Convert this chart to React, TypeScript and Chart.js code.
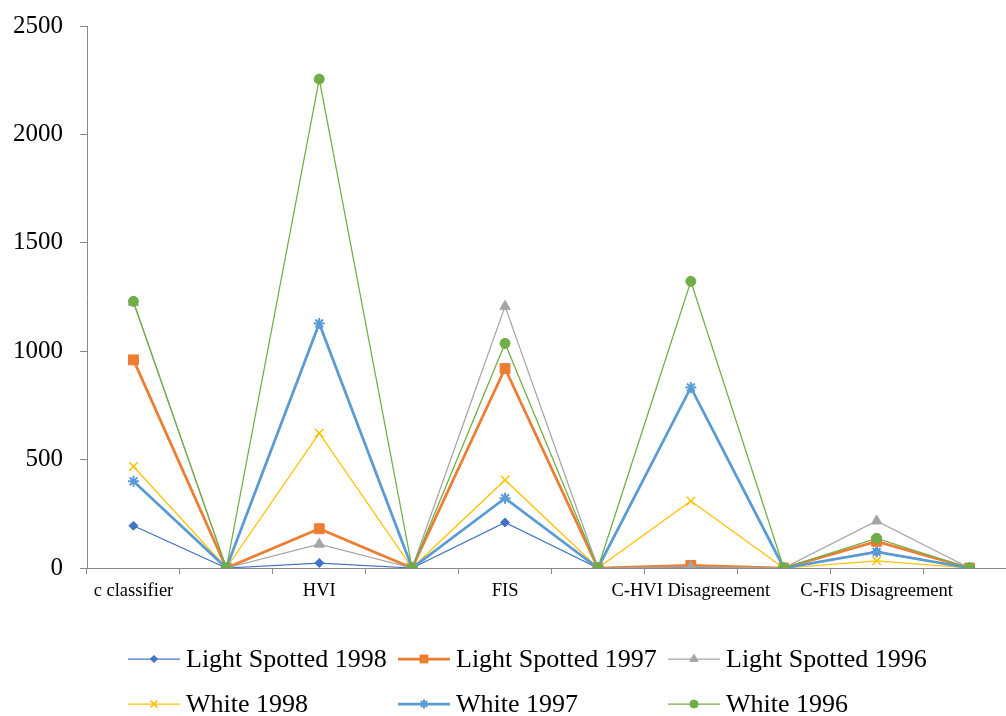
import React, { useEffect, useRef } from "react";
import { Chart, registerables } from "chart.js";
import { drawPoint } from "chart.js/helpers";

Chart.register(...registerables);

const categories = ["c classifier", "", "HVI", "", "FIS", "", "C-HVI Disagreement", "", "C-FIS Disagreement", ""];
const yTicks = [0, 500, 1000, 1500, 2000, 2500];

const lightSpotted1998 = [195, 0, 23, 0, 210, 0, 3, 0, 75, 0];
const lightSpotted1997 = [960, 0, 181, 0, 920, 0, 12, 0, 123, 0];
const lightSpotted1996 = [1225, 0, 110, 0, 1207, 0, 5, 0, 217, 0];
const white1998 = [468, 0, 622, 0, 406, 0, 309, 0, 33, 0];
const white1997 = [400, 0, 1128, 0, 322, 0, 833, 0, 74, 0];
const white1996 = [1230, 0, 2255, 0, 1036, 0, 1322, 0, 137, 0];

const seriesNames = ["Light Spotted 1998", "Light Spotted 1997", "Light Spotted 1996", "White 1998", "White 1997", "White 1996"];
const seriesData = [lightSpotted1998, lightSpotted1997, lightSpotted1996, white1998, white1997, white1996];
const colors = ["#4472C4", "#ED7D31", "#A5A5A5", "#FFC000", "#5B9BD5", "#70AD47"];
const pointStyles = ["rectRot", "rect", "triangle", "crossRot", "star", "circle"];
const pointRadii = [4.5, 7, 6, 6, 5.5, 5];
const lineWidths = [1.25, 2.75, 1.25, 1.25, 2.75, 1.25];
const markerBorders = [1, 1, 1, 1.5, 2, 1];

const FONT = "'Liberation Serif', 'Times New Roman', serif";
const SHIFT = 6;

const legendPlugin = {
  id: "gridLegend",
  afterDraw(chart: any) {
    const ctx = chart.ctx;
    const cols = [128, 398, 668];
    const rows = [659 + SHIFT, 704 + SHIFT];
    ctx.save();
    seriesNames.forEach((name, i) => {
      const x = cols[i % 3];
      const y = rows[Math.floor(i / 3)];
      ctx.strokeStyle = colors[i];
      ctx.fillStyle = colors[i];
      ctx.lineWidth = lineWidths[i];
      ctx.beginPath();
      ctx.moveTo(x, y);
      ctx.lineTo(x + 52, y);
      ctx.stroke();
      ctx.lineWidth = markerBorders[i];
      drawPoint(ctx, { pointStyle: pointStyles[i], radius: pointRadii[i] * 0.8, rotation: 0, borderWidth: markerBorders[i] } as any, x + 26, y);
      ctx.fillStyle = "#000";
      ctx.font = `26px ${FONT}`;
      ctx.textBaseline = "middle";
      ctx.textAlign = "left";
      ctx.fillText(name, x + 58, y + 1);
    });
    ctx.restore();
  },
};

export default function App() {
  const ref = useRef<HTMLCanvasElement>(null);
  useEffect(() => {
    if (!ref.current) return;
    const chart = new Chart(ref.current, {
      type: "line",
      data: {
        labels: categories,
        datasets: seriesData.map((d, i) => ({
          label: seriesNames[i],
          data: d,
          borderColor: colors[i],
          backgroundColor: colors[i],
          pointBackgroundColor: colors[i],
          pointBorderColor: colors[i],
          borderWidth: lineWidths[i],
          pointStyle: pointStyles[i] as any,
          pointRadius: pointRadii[i],
          pointBorderWidth: markerBorders[i],
          tension: 0,
          fill: false,
          order: 5 - i,
        })),
      },
      options: {
        animation: false,
        responsive: false,
        devicePixelRatio: 1,
        layout: { padding: { left: 0, right: 24, top: 20, bottom: 108 } },
        plugins: { legend: { display: false }, tooltip: { enabled: false } },
        scales: {
          x: {
            offset: true,
            grid: { offset: true, drawOnChartArea: false, drawTicks: true, tickLength: 6, color: "#888" },
            border: { color: "#888", width: 1 },
            ticks: { autoSkip: false, maxRotation: 0, color: "#000", padding: 6, font: { family: FONT, size: 18.5 } },
            afterFit: (s: any) => { s.height = 40; },
          },
          y: {
            min: 0,
            max: 2500,
            afterBuildTicks: (s: any) => { s.ticks = yTicks.map((v) => ({ value: v })); },
            grid: { drawOnChartArea: false, drawTicks: true, tickLength: 7, color: "#888" },
            border: { color: "#888", width: 1 },
            ticks: { color: "#000", padding: 17, font: { family: FONT, size: 25 }, callback: (v: any) => String(v) },
            afterFit: (s: any) => { s.width = 87; },
          },
        },
      },
      plugins: [legendPlugin],
    });
    return () => chart.destroy();
  }, []);
  return (
    <div style={{ position: "fixed", left: 0, top: 0, width: 1006, height: 716, overflow: "hidden", background: "#fff" }}>
      <canvas ref={ref} width={1040} height={716 + SHIFT} style={{ display: "block", marginTop: -SHIFT }} />
    </div>
  );
}
